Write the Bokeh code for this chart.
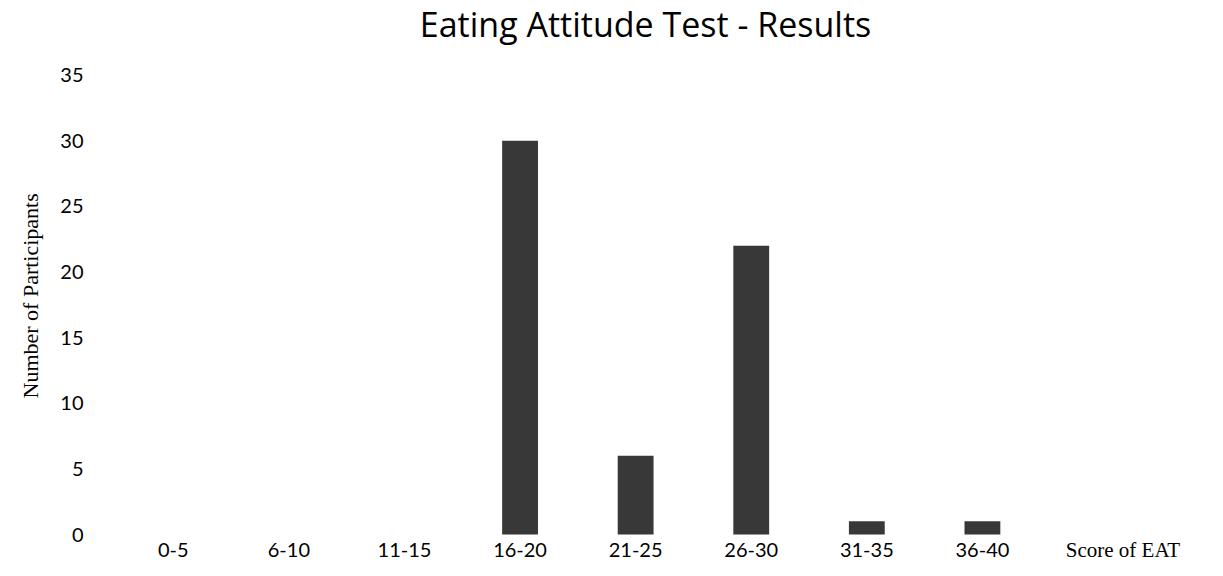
from bokeh.plotting import figure
from bokeh.models import Range1d, FixedTicker, Label, ColumnDataSource, Title
from bokeh.core.properties import value
from bokeh.embed import file_html
from bokeh.resources import INLINE

# Data
categories = ["0-5", "6-10", "11-15", "16-20", "21-25", "26-30", "31-35", "36-40"]
participants = [0, 0, 0, 30, 6, 22, 1, 1]
y_ticks = [0, 5, 10, 15, 20, 25, 30, 35]

title_text = "Eating Attitude Test - Results"
y_title = "Number of Participants"
x_title = "Score of EAT"

BAR_COLOR = "#383838"
SANS = "Lato"
TITLE_FONT = "Open Sans"
SERIF = "Liberation Serif"

# layout (pixels)
W, H = 1207, 560
FRAME_LEFT = 113
SLOT = 115.8          # px per category
Y0_PX = 534           # pixel row of value 0
PX_PER_UNIT = 13.129  # px per participant

x_start = -0.5
x_end = x_start + (W - FRAME_LEFT) / SLOT
y_start = -(H - Y0_PX) / PX_PER_UNIT
y_end = Y0_PX / PX_PER_UNIT

def px_to_x(px):
    return (px - FRAME_LEFT) / SLOT + x_start

def px_to_y(py):
    return (Y0_PX - py) / PX_PER_UNIT

idx = list(range(len(categories)))
src = ColumnDataSource(dict(x=idx, cat=categories, val=participants))

p = figure(
    width=W, height=H,
    x_range=Range1d(x_start, x_end),
    y_range=Range1d(y_start, y_end),
    output_backend="svg",
    toolbar_location=None,
    min_border_left=FRAME_LEFT,
    min_border_right=0,
    min_border_top=0,
    min_border_bottom=0,
)
p.title.visible = False

p.vbar(x="x", top="val", width=0.31, bottom=0, source=src,
       fill_color=BAR_COLOR, line_color=None)

# category labels along the bottom
lab_y = px_to_y(549)
p.text(x="x", y=lab_y, text="cat", source=src,
       text_font=value(SANS), text_font_size="20px",
       text_align="center", text_baseline="middle", text_color="#000000")

p.xaxis.visible = False
p.xgrid.visible = False
p.ygrid.visible = False
p.outline_line_color = None

ax = p.yaxis[0]
ax.ticker = FixedTicker(ticks=y_ticks)
ax.axis_line_color = None
ax.major_tick_line_color = None
ax.minor_tick_line_color = None
ax.major_label_text_font = SANS
ax.major_label_text_font_size = "20px"
ax.major_label_text_color = "#000000"
ax.major_label_standoff = 26

# Y axis title (rotated, in the left panel)
yt = Title(text=y_title, align="left", offset=162, standoff=30,
           text_font=SERIF, text_font_size="22px", text_font_style="normal",
           text_color="#000000")
p.add_layout(yt, "left")

# Title
p.add_layout(Label(x=px_to_x(644), y=px_to_y(23),
                   text=title_text,
                   text_font=TITLE_FONT, text_font_size="34px",
                   text_align="center", text_baseline="alphabetic",
                   text_color="#000000"))

# X axis title
p.add_layout(Label(x=px_to_x(1065), y=lab_y, text=x_title,
                   text_font=SERIF, text_font_size="21px",
                   text_align="left", text_baseline="middle",
                   text_color="#000000"))

open("out.html", "w").write(file_html(p, INLINE))
